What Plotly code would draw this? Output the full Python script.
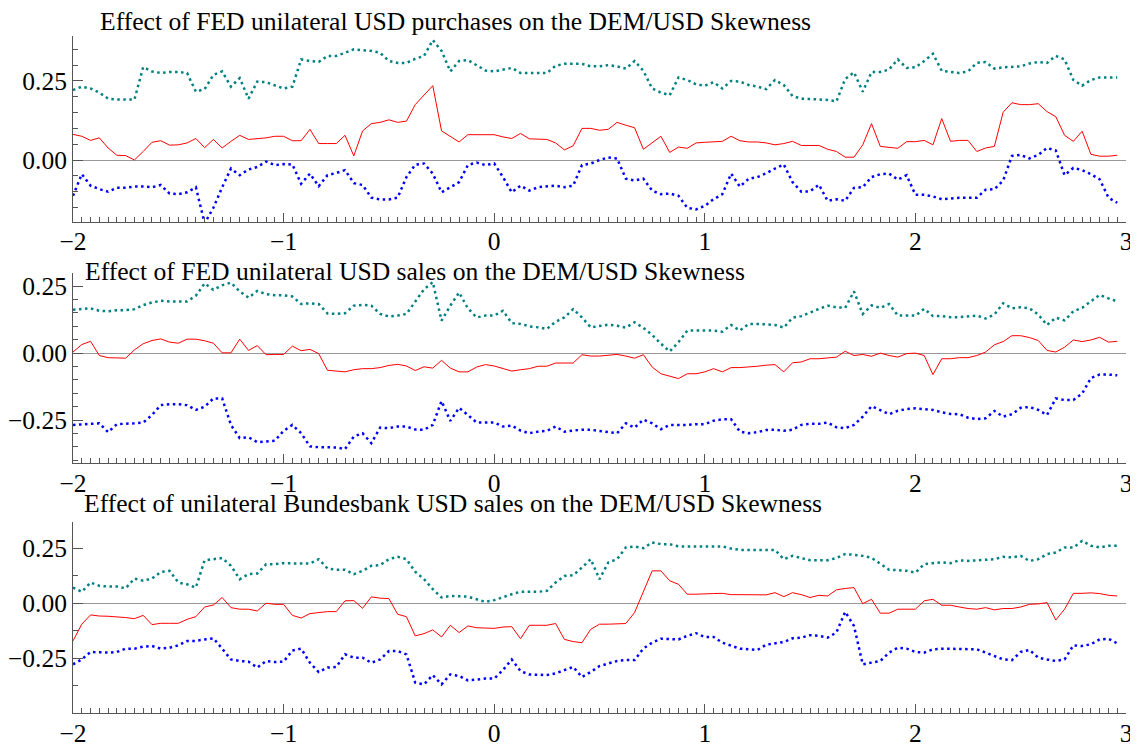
import plotly.graph_objects as go
from plotly.subplots import make_subplots

# hourly observations from two days before to three days after the intervention
hours = list(range(-48, 72))
days = [h / 24 for h in hours]

titles = [
    "Effect of FED unilateral USD purchases on the DEM/USD Skewness",
    "Effect of FED unilateral USD sales on the DEM/USD Skewness",
    "Effect of unilateral Bundesbank USD sales on the DEM/USD Skewness",
]

# panel 1: FED purchases
p1_upper = [
    0.221, 0.232, 0.226, 0.213, 0.194, 0.191, 0.191, 0.191, 0.294, 0.280,
    0.275, 0.278, 0.278, 0.275, 0.216, 0.224, 0.269, 0.280, 0.232, 0.259,
    0.194, 0.248, 0.246, 0.235, 0.226, 0.232, 0.318, 0.313, 0.310, 0.329,
    0.329, 0.339, 0.350, 0.347, 0.345, 0.339, 0.313, 0.307, 0.307, 0.320,
    0.329, 0.379, 0.345, 0.280, 0.313, 0.316, 0.300, 0.283, 0.280, 0.286,
    0.291, 0.275, 0.275, 0.273, 0.275, 0.298, 0.304, 0.304, 0.304, 0.296,
    0.296, 0.300, 0.296, 0.289, 0.313, 0.282, 0.226, 0.213, 0.205, 0.261,
    0.253, 0.239, 0.235, 0.246, 0.226, 0.250, 0.248, 0.237, 0.232, 0.224,
    0.253, 0.237, 0.202, 0.194, 0.192, 0.192, 0.190, 0.185, 0.256, 0.277,
    0.216, 0.278, 0.278, 0.286, 0.318, 0.291, 0.293, 0.313, 0.336, 0.282,
    0.278, 0.275, 0.280, 0.307, 0.310, 0.289, 0.293, 0.295, 0.296, 0.305,
    0.310, 0.307, 0.329, 0.318, 0.253, 0.235, 0.253, 0.261, 0.261, 0.261,
]
p1_effect = [
    0.081, 0.075, 0.062, 0.070, 0.038, 0.015, 0.014, 0.000, 0.027, 0.056,
    0.061, 0.047, 0.048, 0.054, 0.068, 0.039, 0.065, 0.038, 0.059, 0.078,
    0.065, 0.067, 0.070, 0.075, 0.075, 0.061, 0.061, 0.097, 0.052, 0.052,
    0.052, 0.078, 0.013, 0.092, 0.115, 0.119, 0.127, 0.119, 0.123, 0.175,
    0.205, 0.235, 0.092, 0.075, 0.057, 0.080, 0.080, 0.080, 0.080, 0.073,
    0.068, 0.084, 0.067, 0.066, 0.065, 0.054, 0.032, 0.045, 0.100, 0.100,
    0.094, 0.097, 0.119, 0.110, 0.102, 0.034, 0.054, 0.075, 0.024, 0.041,
    0.037, 0.054, 0.056, 0.058, 0.059, 0.075, 0.061, 0.057, 0.057, 0.054,
    0.048, 0.052, 0.059, 0.046, 0.046, 0.046, 0.034, 0.027, 0.009, 0.009,
    0.048, 0.115, 0.043, 0.040, 0.037, 0.058, 0.058, 0.062, 0.048, 0.131,
    0.059, 0.062, 0.062, 0.027, 0.038, 0.043, 0.151, 0.181, 0.175, 0.175,
    0.178, 0.153, 0.137, 0.078, 0.059, 0.091, 0.018, 0.012, 0.012, 0.015,
]
p1_lower = [
    -0.113, -0.045, -0.081, -0.092, -0.100, -0.088, -0.088, -0.084, -0.084, -0.086,
    -0.079, -0.106, -0.108, -0.102, -0.086, -0.200, -0.151, -0.086, -0.027, -0.048,
    -0.030, -0.022, -0.005, -0.016, -0.013, -0.014, -0.075, -0.043, -0.083, -0.048,
    -0.041, -0.032, -0.073, -0.079, -0.119, -0.125, -0.125, -0.119, -0.054, -0.015,
    -0.011, -0.043, -0.102, -0.086, -0.070, -0.016, -0.008, -0.016, -0.011, -0.054,
    -0.102, -0.081, -0.097, -0.086, -0.084, -0.081, -0.086, -0.081, -0.016, -0.011,
    0.000, 0.008, 0.005, -0.059, -0.065, -0.059, -0.097, -0.108, -0.106, -0.113,
    -0.151, -0.156, -0.145, -0.124, -0.108, -0.043, -0.084, -0.059, -0.054, -0.042,
    -0.027, -0.014, -0.070, -0.100, -0.099, -0.078, -0.129, -0.124, -0.129, -0.088,
    -0.086, -0.054, -0.045, -0.043, -0.062, -0.048, -0.110, -0.110, -0.115, -0.124,
    -0.122, -0.119, -0.119, -0.119, -0.094, -0.092, -0.065, 0.013, 0.016, 0.005,
    0.016, 0.038, 0.030, -0.048, -0.025, -0.032, -0.045, -0.061, -0.119, -0.135,
]

# panel 2: FED sales
p2_upper = [
    0.162, 0.164, 0.167, 0.158, 0.156, 0.160, 0.160, 0.164, 0.179, 0.189,
    0.195, 0.193, 0.193, 0.193, 0.214, 0.260, 0.236, 0.253, 0.263, 0.230,
    0.207, 0.232, 0.220, 0.216, 0.216, 0.211, 0.183, 0.186, 0.183, 0.148,
    0.146, 0.149, 0.177, 0.180, 0.177, 0.146, 0.137, 0.140, 0.146, 0.190,
    0.238, 0.265, 0.121, 0.177, 0.226, 0.167, 0.133, 0.140, 0.140, 0.158,
    0.112, 0.109, 0.100, 0.096, 0.090, 0.117, 0.133, 0.164, 0.133, 0.096,
    0.100, 0.106, 0.102, 0.095, 0.115, 0.094, 0.068, 0.035, 0.006, 0.041,
    0.084, 0.084, 0.084, 0.084, 0.080, 0.105, 0.084, 0.109, 0.109, 0.106,
    0.105, 0.095, 0.132, 0.138, 0.153, 0.165, 0.177, 0.171, 0.169, 0.230,
    0.146, 0.178, 0.169, 0.183, 0.140, 0.140, 0.140, 0.165, 0.138, 0.138,
    0.134, 0.134, 0.136, 0.140, 0.129, 0.144, 0.186, 0.167, 0.171, 0.167,
    0.144, 0.105, 0.132, 0.122, 0.156, 0.169, 0.193, 0.217, 0.204, 0.193,
]
p2_effect = [
    0.004, 0.032, 0.044, -0.009, -0.017, -0.019, -0.019, 0.012, 0.035, 0.047,
    0.053, 0.041, 0.037, 0.052, 0.052, 0.046, 0.037, 0.001, 0.001, 0.052,
    0.010, 0.028, -0.006, -0.005, -0.005, 0.026, 0.009, 0.014, -0.002, -0.064,
    -0.067, -0.070, -0.062, -0.058, -0.058, -0.054, -0.046, -0.042, -0.048, -0.065,
    -0.051, -0.056, -0.027, -0.056, -0.070, -0.070, -0.052, -0.043, -0.048, -0.058,
    -0.067, -0.062, -0.058, -0.049, -0.049, -0.037, -0.036, -0.037, -0.006, -0.011,
    -0.011, -0.009, -0.005, -0.011, -0.019, -0.006, -0.052, -0.077, -0.086, -0.095,
    -0.077, -0.077, -0.070, -0.058, -0.070, -0.054, -0.054, -0.052, -0.049, -0.045,
    -0.043, -0.070, -0.036, -0.033, -0.021, -0.021, -0.019, -0.015, 0.007, -0.009,
    -0.005, -0.012, 0.000, -0.009, -0.015, -0.002, 0.000, -0.009, -0.080, -0.021,
    -0.021, -0.017, -0.017, -0.009, 0.004, 0.031, 0.043, 0.065, 0.065, 0.058,
    0.047, 0.010, 0.004, 0.022, 0.049, 0.043, 0.049, 0.059, 0.041, 0.044,
]
p2_lower = [
    -0.268, -0.265, -0.264, -0.262, -0.295, -0.265, -0.264, -0.262, -0.259, -0.231,
    -0.194, -0.191, -0.191, -0.194, -0.212, -0.200, -0.169, -0.169, -0.268, -0.317,
    -0.314, -0.332, -0.330, -0.327, -0.290, -0.268, -0.299, -0.348, -0.351, -0.352,
    -0.352, -0.358, -0.311, -0.299, -0.336, -0.278, -0.280, -0.274, -0.274, -0.285,
    -0.286, -0.268, -0.179, -0.253, -0.204, -0.231, -0.259, -0.259, -0.259, -0.274,
    -0.270, -0.289, -0.299, -0.293, -0.290, -0.274, -0.293, -0.289, -0.286, -0.286,
    -0.290, -0.295, -0.299, -0.262, -0.278, -0.248, -0.262, -0.284, -0.268, -0.268,
    -0.268, -0.265, -0.265, -0.252, -0.247, -0.247, -0.293, -0.299, -0.295, -0.287,
    -0.286, -0.290, -0.286, -0.268, -0.264, -0.264, -0.259, -0.277, -0.280, -0.268,
    -0.237, -0.198, -0.212, -0.228, -0.215, -0.209, -0.206, -0.209, -0.212, -0.221,
    -0.227, -0.228, -0.241, -0.246, -0.243, -0.216, -0.237, -0.228, -0.204, -0.201,
    -0.212, -0.231, -0.169, -0.175, -0.175, -0.151, -0.093, -0.080, -0.080, -0.083,
]

# panel 3: Bundesbank sales
p3_upper = [
    0.071, 0.052, 0.094, 0.079, 0.076, 0.076, 0.068, 0.112, 0.102, 0.112,
    0.142, 0.147, 0.094, 0.086, 0.071, 0.195, 0.200, 0.205, 0.170, 0.109,
    0.132, 0.135, 0.177, 0.177, 0.182, 0.180, 0.180, 0.180, 0.200, 0.158,
    0.152, 0.152, 0.132, 0.147, 0.170, 0.173, 0.200, 0.211, 0.200, 0.143,
    0.109, 0.064, 0.026, 0.033, 0.030, 0.030, 0.018, 0.006, 0.014, 0.029,
    0.041, 0.052, 0.052, 0.052, 0.056, 0.094, 0.124, 0.127, 0.162, 0.200,
    0.109, 0.185, 0.200, 0.253, 0.258, 0.250, 0.276, 0.268, 0.268, 0.258,
    0.258, 0.258, 0.258, 0.258, 0.258, 0.248, 0.242, 0.242, 0.242, 0.243,
    0.242, 0.200, 0.215, 0.205, 0.195, 0.195, 0.195, 0.205, 0.223, 0.220,
    0.215, 0.206, 0.177, 0.152, 0.150, 0.147, 0.139, 0.177, 0.182, 0.185,
    0.182, 0.195, 0.192, 0.195, 0.195, 0.200, 0.211, 0.208, 0.215, 0.192,
    0.200, 0.223, 0.230, 0.253, 0.253, 0.283, 0.261, 0.253, 0.261, 0.261,
]
p3_effect = [
    -0.171, -0.095, -0.053, -0.058, -0.059, -0.061, -0.065, -0.070, -0.055, -0.097,
    -0.091, -0.091, -0.091, -0.073, -0.061, -0.017, -0.008, 0.026, -0.020, -0.027,
    -0.027, -0.035, 0.000, -0.005, -0.005, -0.055, -0.067, -0.047, -0.042, -0.038,
    -0.038, 0.011, 0.012, -0.023, 0.029, 0.023, 0.021, -0.050, -0.061, -0.148,
    -0.138, -0.121, -0.153, -0.100, -0.133, -0.103, -0.111, -0.114, -0.114, -0.108,
    -0.106, -0.161, -0.100, -0.100, -0.100, -0.092, -0.164, -0.174, -0.179, -0.118,
    -0.095, -0.095, -0.095, -0.092, -0.042, 0.056, 0.147, 0.147, 0.102, 0.086,
    0.041, 0.041, 0.041, 0.044, 0.045, 0.039, 0.039, 0.038, 0.036, 0.038,
    0.048, 0.030, 0.048, 0.039, 0.026, 0.036, 0.033, 0.061, 0.067, 0.071,
    -0.002, 0.018, -0.045, -0.045, -0.027, -0.027, -0.027, 0.011, 0.018, -0.009,
    -0.009, -0.017, -0.024, -0.027, -0.020, -0.030, -0.024, -0.024, -0.017, -0.005,
    -0.003, 0.003, -0.076, -0.027, 0.045, 0.045, 0.047, 0.044, 0.036, 0.033,
]
p3_lower = [
    -0.277, -0.255, -0.221, -0.224, -0.224, -0.221, -0.206, -0.206, -0.197, -0.194,
    -0.206, -0.202, -0.191, -0.171, -0.171, -0.164, -0.159, -0.206, -0.255, -0.262,
    -0.265, -0.292, -0.262, -0.267, -0.265, -0.214, -0.206, -0.270, -0.312, -0.292,
    -0.289, -0.232, -0.247, -0.247, -0.270, -0.255, -0.217, -0.217, -0.232, -0.360,
    -0.368, -0.326, -0.368, -0.323, -0.330, -0.350, -0.345, -0.342, -0.342, -0.303,
    -0.255, -0.308, -0.323, -0.326, -0.326, -0.318, -0.305, -0.289, -0.335, -0.312,
    -0.285, -0.273, -0.262, -0.258, -0.258, -0.205, -0.179, -0.161, -0.161, -0.164,
    -0.148, -0.136, -0.153, -0.153, -0.179, -0.194, -0.206, -0.209, -0.212, -0.188,
    -0.182, -0.176, -0.159, -0.156, -0.145, -0.148, -0.156, -0.133, -0.039, -0.103,
    -0.277, -0.270, -0.262, -0.224, -0.202, -0.206, -0.221, -0.224, -0.209, -0.206,
    -0.206, -0.206, -0.206, -0.209, -0.224, -0.239, -0.255, -0.258, -0.221, -0.212,
    -0.247, -0.255, -0.262, -0.255, -0.191, -0.194, -0.186, -0.164, -0.161, -0.182,
]

panels = [
    (p1_upper, p1_effect, p1_lower),
    (p2_upper, p2_effect, p2_lower),
    (p3_upper, p3_effect, p3_lower),
]
y_ticks = [-0.25, 0.0, 0.25]

# the page body has an 8px margin, so size the figure to what is visible
OFF = 8
W, H = 1138 - OFF, 746 - OFF
FONT = "Liberation Serif, Times New Roman, serif"
AXIS = "#555555"


def px_x(p):
    return (p - OFF) / W


def px_y(p):
    return 1 - (p - OFF) / H


# screen layout of each panel: (top, bottom, y-range, minor y step, title x, title y)
frames = [
    (36, 221.7, [-0.195, 0.392], 0.05, 98, 22),
    (272.7, 463, [-0.41, 0.30], 0.05, 83, 271),
    (521.7, 713, [-0.498, 0.37], 0.125, 82, 503),
]

fig = make_subplots(rows=3, cols=1)

for row, (upper, effect, lower) in enumerate(panels, start=1):
    fig.add_trace(go.Scatter(x=days, y=upper, mode="lines",
                             line=dict(color="#008080", width=2.5, dash="2.5px,3.5px")),
                  row=row, col=1)
    fig.add_trace(go.Scatter(x=days, y=effect, mode="lines",
                             line=dict(color="#ff0000", width=1)),
                  row=row, col=1)
    fig.add_trace(go.Scatter(x=days, y=lower, mode="lines",
                             line=dict(color="#0000ff", width=2.5, dash="2.5px,3.5px")),
                  row=row, col=1)

for row, (top, bottom, yrange, ystep, tx, ty) in enumerate(frames, start=1):
    fig.update_xaxes(
        domain=[px_x(73), px_x(1126)], range=[-2, 3], dtick=1, tick0=0,
        automargin=False,
        showline=True, linecolor=AXIS, linewidth=1,
        ticks="inside", ticklen=9, tickcolor=AXIS,
        minor=dict(dtick=1 / 24, tick0=-2, ticks="inside", ticklen=5, tickcolor=AXIS),
        showgrid=False, zeroline=False,
        ticklabelstandoff=-3,
        tickfont=dict(family=FONT, size=25.5, color="black"),
        row=row, col=1,
    )
    fig.update_yaxes(
        domain=[px_y(bottom), px_y(top)], range=yrange,
        tickvals=y_ticks, tickformat=".2f",
        automargin=False,
        showline=True, linecolor=AXIS, linewidth=1,
        ticks="inside", ticklen=10, tickcolor=AXIS,
        minor=dict(dtick=ystep, tick0=0, ticks="inside", ticklen=5, tickcolor=AXIS),
        showgrid=False, zeroline=True, zerolinecolor="#999999", zerolinewidth=1,
        tickfont=dict(family=FONT, size=25.5, color="black"),
        row=row, col=1,
    )
    fig.add_annotation(text=titles[row - 1], xref="paper", yref="paper",
                       x=px_x(tx), y=px_y(ty), xanchor="left", yanchor="middle",
                       showarrow=False, font=dict(family=FONT, size=25.6, color="black"))

fig.update_layout(
    width=W, height=H,
    margin=dict(l=0, r=0, t=0, b=0),
    paper_bgcolor="white", plot_bgcolor="white",
    showlegend=False,
)

fig.write_html("out.html")
